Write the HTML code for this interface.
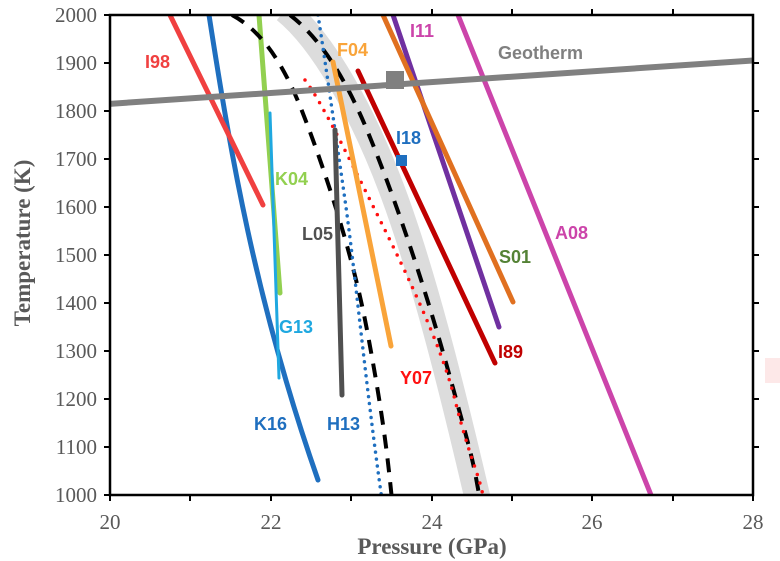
<!DOCTYPE html>
<html><head><meta charset="utf-8"><style>
body{margin:0;background:#fff;}
svg{display:block;}
.t{font-family:"Liberation Serif",serif;font-size:21px;fill:#595959;}
.l{font-family:"Liberation Sans",sans-serif;font-size:18px;font-weight:bold;}
</style></head><body>
<svg width="780" height="561" viewBox="0 0 780 561" xmlns="http://www.w3.org/2000/svg">
<defs><clipPath id="c"><rect x="110" y="15" width="643" height="480"/></clipPath></defs>
<rect x="765" y="358" width="15" height="25" fill="#fde8e8"/>
<g clip-path="url(#c)" fill="none" stroke-linecap="round">
<path d="M285,10 C322,40 362,110 392,190 S450,380 478,500" stroke="#dcdcdc" stroke-width="26" stroke-linecap="butt"/>
<path d="M209,15 C230,150 255,300 318,480" stroke="#1f6fbf" stroke-width="5"/>
<line x1="170" y1="15" x2="263" y2="205" stroke="#f04040" stroke-width="5"/>
<line x1="259" y1="15" x2="280" y2="293" stroke="#92d050" stroke-width="5"/>
<line x1="270" y1="113" x2="279" y2="378" stroke="#1fa8e0" stroke-width="3"/>
<path d="M232,15 C260,30 282,60 302,111 S352,250 367,330 S387,450 392,500" stroke="#000" stroke-width="4" stroke-dasharray="14,10" stroke-linecap="butt"/>
<path d="M290,15 C316,35 342,70 367,130 S423,280 448,370 S473,460 480,500" stroke="#000" stroke-width="4" stroke-dasharray="14,10" stroke-linecap="butt"/>
<path d="M318,15 C325,60 335,130 345,200 S365,380 382,500" stroke="#1f6fbf" stroke-width="3.5" stroke-dasharray="0,7"/>
<path d="M305,80 C320,100 340,140 370,200 S440,340 455,400 S478,470 484,500" stroke="#ff1010" stroke-width="3.5" stroke-dasharray="0,9"/>
<line x1="335" y1="130" x2="342" y2="395" stroke="#505050" stroke-width="5"/>
<line x1="333" y1="62" x2="391" y2="346" stroke="#f9a43a" stroke-width="5"/>
<line x1="358" y1="71" x2="495" y2="363" stroke="#c00000" stroke-width="5"/>
<line x1="393" y1="15" x2="499" y2="327" stroke="#7030a0" stroke-width="5"/>
<line x1="383" y1="15" x2="513" y2="302" stroke="#e07020" stroke-width="5"/>
<line x1="458" y1="15" x2="653" y2="500" stroke="#cc44aa" stroke-width="5"/>
<line x1="100" y1="104.5" x2="760" y2="60" stroke="#808080" stroke-width="6" stroke-linecap="butt"/>
</g>
<rect x="386" y="71" width="18" height="18" fill="#808080"/>
<rect x="396" y="155" width="11" height="11" fill="#1f6fbf"/>
<g stroke="#000" stroke-width="2.5" fill="none">
<path d="M110,15 H753 V495 H110 Z"/>
</g>
<g stroke="#000" stroke-width="2">
<path d="M104,15H110M104,63H110M104,111H110M104,159H110M104,207H110M104,255H110M104,303H110M104,351H110M104,399H110M104,447H110M104,495H110"/>
<path d="M753,63H759M753,111H759M753,159H759M753,207H759M753,255H759M753,303H759M753,351H759M753,399H759M753,447H759"/>
<path d="M110,495V501M190,495V501M271,495V501M351,495V501M432,495V501M512,495V501M592,495V501M673,495V501M753,495V501"/>
<path d="M190,15V9M271,15V9M351,15V9M432,15V9M512,15V9M592,15V9M673,15V9"/>
</g>
<g class="t" text-anchor="end">
<text x="97" y="22">2000</text><text x="97" y="70">1900</text><text x="97" y="118">1800</text><text x="97" y="166">1700</text><text x="97" y="214">1600</text><text x="97" y="262">1500</text><text x="97" y="310">1400</text><text x="97" y="358">1300</text><text x="97" y="406">1200</text><text x="97" y="454">1100</text><text x="97" y="502">1000</text>
</g>
<g class="t" text-anchor="middle">
<text x="110" y="529">20</text><text x="271" y="529">22</text><text x="432" y="529">24</text><text x="592" y="529">26</text><text x="753" y="529">28</text>
</g>
<text x="432" y="554" text-anchor="middle" style="font-family:'Liberation Serif',serif;font-size:23px;font-weight:bold;fill:#595959">Pressure (GPa)</text>
<text transform="translate(30,243) rotate(-90)" text-anchor="middle" style="font-family:'Liberation Serif',serif;font-size:23px;font-weight:bold;fill:#595959">Temperature (K)</text>
<g class="l">
<text x="145" y="68" fill="#f04040">I98</text>
<text x="275" y="185" fill="#92d050">K04</text>
<text x="302" y="240" fill="#505050">L05</text>
<text x="279" y="333" fill="#1fa8e0">G13</text>
<text x="254" y="430" fill="#1f6fbf">K16</text>
<text x="327" y="430" fill="#1f6fbf">H13</text>
<text x="337" y="56" fill="#f9a43a">F04</text>
<text x="410" y="37" fill="#cc44aa">I11</text>
<text x="498" y="59" fill="#808080">Geotherm</text>
<text x="396" y="144" fill="#1f6fbf">I18</text>
<text x="499" y="263" fill="#548235">S01</text>
<text x="555" y="239" fill="#cc44aa">A08</text>
<text x="498" y="358" fill="#c00000">I89</text>
<text x="400" y="384" fill="#ff1010">Y07</text>
</g>
</svg>
</body></html>
